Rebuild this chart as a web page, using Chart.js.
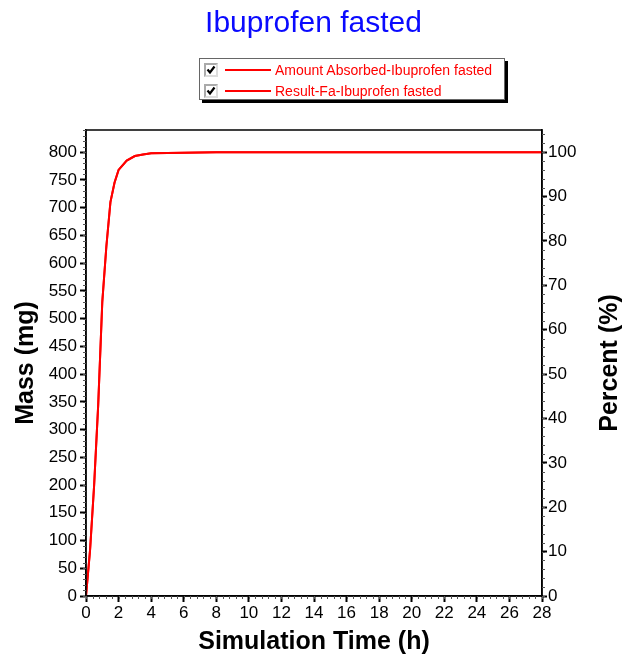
<!DOCTYPE html>
<html>
<head>
<meta charset="utf-8">
<script src="https://cdn.jsdelivr.net/npm/chart.js@4.4.1/dist/chart.umd.min.js"></script>
<style>
  body { margin: 0; background: #fff; font-family: Arial, "Liberation Sans", sans-serif; }
  #wrap { position: relative; width: 623px; height: 656px; }
  #title { position: absolute; left: 0; width: 627px; top: 5px; text-align: center; color: #0a0aff; font-size: 30px; }
  #legend { position: absolute; left: 199px; top: 58px; width: 306px; height: 42px; background: #fff;
    border: 1px solid #666; box-shadow: 3px 3px 0 #000; box-sizing: border-box; }
  .row { position: absolute; left: 4px; height: 18px; display: flex; align-items: center; }
  .chk { width: 14px; height: 14px; border: 2px solid #aaa; border-right-color: #ddd; border-bottom-color: #ddd;
    box-sizing: border-box; background: #fff; position: relative; }
  .chk svg { position: absolute; left: 0; top: 0; }
  .ln { width: 46px; height: 2px; background: #ff0000; margin-left: 7px; }
  .txt { color: #ff0000; font-size: 14px; margin-left: 4px; white-space: nowrap; }
</style>
</head>
<body>
<div id="wrap">
  <canvas id="c" width="623" height="656"></canvas>
  <div id="title">Ibuprofen fasted</div>
  <div id="legend"></div>
</div>
<script>
const seriesNames = ['Amount Absorbed-Ibuprofen fasted', 'Result-Fa-Ibuprofen fasted']
const timeH = [0, 0.25, 0.5, 0.75, 1, 1.25, 1.5, 1.75, 2, 2.5, 3, 3.5, 4, 5, 6, 7, 8, 10, 12, 14, 16, 18, 20, 22, 24, 26, 28]
const massMg = [0, 83, 200, 345, 530, 630, 710, 745, 768, 785, 793, 796, 798, 798.5, 799, 799.5, 800, 800, 800, 800, 800, 800, 800, 800, 800, 800, 800]
const dose = 800
const fractionPct = massMg.map(m => m / dose * 100)

// legend (html)
const legend = document.getElementById('legend')
seriesNames.forEach((name, i) => {
  const row = document.createElement('div')
  row.className = 'row'
  row.style.top = (2 + i * 21) + 'px'
  row.innerHTML = '<div class="chk"><svg width="10" height="10"><path d="M1.5 4.5 L4 7.5 L8.5 1.5" stroke="#000" stroke-width="2.2" fill="none"/></svg></div>' +
    '<div class="ln"></div><div class="txt">' + name + '</div>'
  legend.appendChild(row)
})

// minor ticks + frame + right title
const extras = {
  id: 'extras',
  afterDraw(chart) {
    const ctx = chart.ctx
    const a = chart.chartArea
    ctx.save()
    ctx.strokeStyle = '#000'
    ctx.lineWidth = 1.5
    ctx.strokeRect(a.left, a.top, a.right - a.left, a.bottom - a.top)

    ctx.lineWidth = 1
    ctx.strokeStyle = '#555'
    const x = chart.scales.x
    for (let v = 0; v <= 28; v += 0.4) {
      const px = Math.round(x.getPixelForValue(v)) + 0.5
      ctx.beginPath(); ctx.moveTo(px, a.bottom); ctx.lineTo(px, a.bottom + 3); ctx.stroke()
    }
    const y = chart.scales.y
    for (let v = 0; v <= 840; v += 10) {
      const py = Math.round(y.getPixelForValue(v)) + 0.5
      ctx.beginPath(); ctx.moveTo(a.left, py); ctx.lineTo(a.left - 3, py); ctx.stroke()
    }
    const y2 = chart.scales.y2
    for (let v = 0; v <= 105; v += 2) {
      const py = Math.round(y2.getPixelForValue(v)) + 0.5
      ctx.beginPath(); ctx.moveTo(a.right, py); ctx.lineTo(a.right + 3, py); ctx.stroke()
    }

    ctx.fillStyle = '#000'
    ctx.font = 'bold 25px Arial'
    ctx.textAlign = 'center'
    ctx.textBaseline = 'middle'
    ctx.translate(610, (a.top + a.bottom) / 2)
    ctx.rotate(-Math.PI / 2)
    ctx.fillText('Percent (%)', 0, 0)
    ctx.restore()
  }
}

const tickFont = { family: 'Arial', size: 17 }
const titleFont = { family: 'Arial', size: 25, weight: 'bold', lineHeight: 1 }

new Chart(document.getElementById('c'), {
  type: 'line',
  data: {
    datasets: [
      {
        label: seriesNames[0],
        data: timeH.map((t, i) => ({ x: t, y: massMg[i] })),
        yAxisID: 'y',
        borderColor: '#ff0000',
        borderWidth: 2,
        pointRadius: 0,
        tension: 0
      },
      {
        label: seriesNames[1],
        data: timeH.map((t, i) => ({ x: t, y: fractionPct[i] })),
        yAxisID: 'y2',
        borderColor: '#ff0000',
        borderWidth: 2,
        pointRadius: 0,
        tension: 0
      }
    ]
  },
  options: {
    responsive: false,
    animation: false,
    layout: { padding: { top: 130, left: 0, right: 0, bottom: 0 } },
    plugins: {
      legend: { display: false },
      title: { display: false },
      tooltip: { enabled: false }
    },
    scales: {
      x: {
        type: 'linear',
        min: 0,
        max: 28,
        afterFit: s => { s.height = 60 },
        ticks: { stepSize: 2, color: '#000', font: tickFont, padding: 1, maxRotation: 0 },
        grid: { drawOnChartArea: false, tickLength: 6, tickWidth: 2, tickColor: '#000' },
        border: { color: '#000', width: 1.5 },
        title: { display: true, text: 'Simulation Time (h)', color: '#000', font: titleFont, padding: { top: 0, bottom: 1 } }
      },
      y: {
        position: 'left',
        min: 0,
        max: 840,
        afterFit: s => { s.width = 86 },
        afterBuildTicks: s => { s.ticks = s.ticks.filter(t => t.value <= 800) },
        ticks: { stepSize: 50, color: '#000', font: tickFont, padding: 3 },
        grid: { drawOnChartArea: false, tickLength: 6, tickWidth: 2, tickColor: '#000' },
        border: { color: '#000', width: 1.5 },
        title: { display: true, text: 'Mass (mg)', color: '#000', font: titleFont, padding: { top: 14, bottom: 0 } }
      },
      y2: {
        position: 'right',
        min: 0,
        max: 105,
        afterFit: s => { s.width = 81 },
        afterBuildTicks: s => { s.ticks = s.ticks.filter(t => t.value <= 100) },
        ticks: { stepSize: 10, color: '#000', font: tickFont, padding: 1 },
        grid: { drawOnChartArea: false, tickLength: 5, tickWidth: 2, tickColor: '#000' },
        border: { color: '#000', width: 1.5 }
      }
    }
  },
  plugins: [extras]
})
</script>
</body>
</html>
